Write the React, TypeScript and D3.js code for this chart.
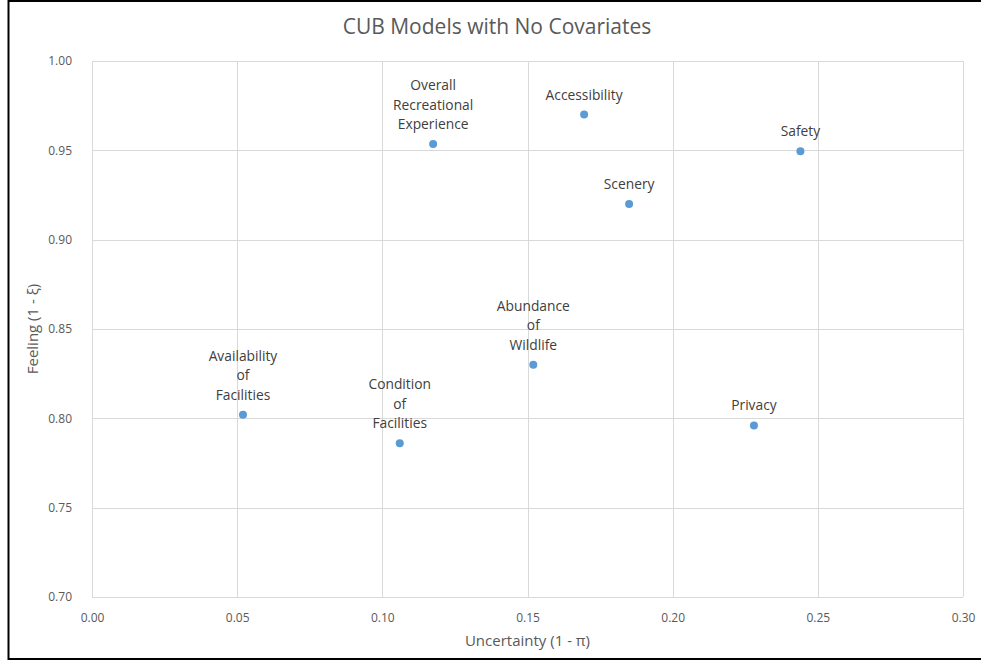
import React, { useEffect, useRef } from 'react';
import * as d3 from 'd3';

// values
const attributes = [
  ['Availability', 'of', 'Facilities'],
  ['Condition', 'of', 'Facilities'],
  ['Overall', 'Recreational', 'Experience'],
  ['Abundance', 'of', 'Wildlife'],
  ['Accessibility'],
  ['Scenery'],
  ['Privacy'],
  ['Safety'],
];
const uncertainty = [0.052, 0.106, 0.1175, 0.152, 0.1695, 0.185, 0.228, 0.244];
const feeling = [0.802, 0.786, 0.9535, 0.830, 0.970, 0.920, 0.796, 0.9495];
const xTicks = [0, 0.05, 0.1, 0.15, 0.2, 0.25, 0.3];
const yTicks = [0.7, 0.75, 0.8, 0.85, 0.9, 0.95, 1.0];

const FONT = '"Open Sans", "Liberation Sans", sans-serif';

const App: React.FC = () => {
  const ref = useRef<SVGSVGElement | null>(null);

  useEffect(() => {
    const W = 981, H = 661;
    const margin = { top: 61, right: 18, bottom: 64, left: 92 };
    const width = W - margin.left - margin.right;
    const height = H - margin.top - margin.bottom;

    const root = d3.select(ref.current);
    root.selectAll('*').remove();
    root.attr('width', W).attr('height', H);

    root.append('rect')
      .attr('x', 0).attr('y', 0).attr('width', W).attr('height', H)
      .attr('fill', '#fff');

    // frame
    root.append('rect')
      .attr('x', 8.5).attr('y', 1).attr('width', W + 10).attr('height', 658)
      .attr('fill', 'none').attr('stroke', '#000').attr('stroke-width', 2);

    root.append('text')
      .attr('x', 497).attr('y', 34)
      .attr('text-anchor', 'middle')
      .attr('font-family', FONT).attr('font-size', 21)
      .attr('fill', '#595959')
      .text('CUB Models with No Covariates');

    const g = root.append('g')
      .attr('transform', `translate(${margin.left},${margin.top})`);

    const x = d3.scaleLinear().domain([0, 0.3]).range([0, width]);
    const y = d3.scaleLinear().domain([0.7, 1.0]).range([height, 0]);

    g.append('g')
      .selectAll('line.v')
      .data(xTicks)
      .enter().append('line')
      .attr('x1', d => Math.round(x(d)) + 0.5).attr('x2', d => Math.round(x(d)) + 0.5)
      .attr('y1', 0).attr('y2', height)
      .attr('stroke', '#d9d9d9');

    g.append('g')
      .selectAll('line.h')
      .data(yTicks)
      .enter().append('line')
      .attr('x1', 0).attr('x2', width)
      .attr('y1', d => Math.round(y(d)) + 0.5).attr('y2', d => Math.round(y(d)) + 0.5)
      .attr('stroke', '#d9d9d9');

    const xAxis = g.append('g')
      .attr('transform', `translate(0,${height})`)
      .call(d3.axisBottom(x).tickValues(xTicks).tickFormat(d3.format('.2f')).tickSize(0).tickPadding(16));
    xAxis.select('.domain').remove();
    xAxis.selectAll('text')
      .attr('font-family', FONT).attr('font-size', 12).attr('fill', '#595959');

    const yAxis = g.append('g')
      .call(d3.axisLeft(y).tickValues(yTicks).tickFormat(d3.format('.2f')).tickSize(0).tickPadding(20));
    yAxis.select('.domain').remove();
    yAxis.selectAll('text')
      .attr('font-family', FONT).attr('font-size', 12).attr('fill', '#595959');

    root.append('text')
      .attr('x', margin.left + width / 2).attr('y', 646)
      .attr('text-anchor', 'middle')
      .attr('font-family', FONT).attr('font-size', 15)
      .attr('fill', '#595959')
      .text('Uncertainty (1 - π)');

    root.append('text')
      .attr('transform', `translate(38,${margin.top + height / 2}) rotate(-90)`)
      .attr('text-anchor', 'middle')
      .attr('font-family', FONT).attr('font-size', 15)
      .attr('fill', '#595959')
      .text('Feeling (1 - ξ)');

    const idx = d3.range(uncertainty.length);

    g.selectAll('circle.pt')
      .data(idx)
      .enter().append('circle')
      .attr('cx', i => x(uncertainty[i]))
      .attr('cy', i => y(feeling[i]))
      .attr('r', 4)
      .attr('fill', '#5b9bd5');

    const labels = g.selectAll('text.lbl')
      .data(idx)
      .enter().append('text')
      .attr('text-anchor', 'middle')
      .attr('font-family', FONT).attr('font-size', 13.8)
      .attr('fill', '#404040');

    labels.each(function (i) {
      const lines = attributes[i];
      const n = lines.length;
      d3.select(this).selectAll('tspan')
        .data(lines)
        .enter().append('tspan')
        .attr('x', x(uncertainty[i]))
        .attr('y', (_, k) => y(feeling[i]) - 15 - (n - 1 - k) * 19.5)
        .text(t => t);
    });
  }, []);

  return <svg ref={ref} style={{ position: 'absolute', left: 0, top: 0 }} />;
};

export default App;
